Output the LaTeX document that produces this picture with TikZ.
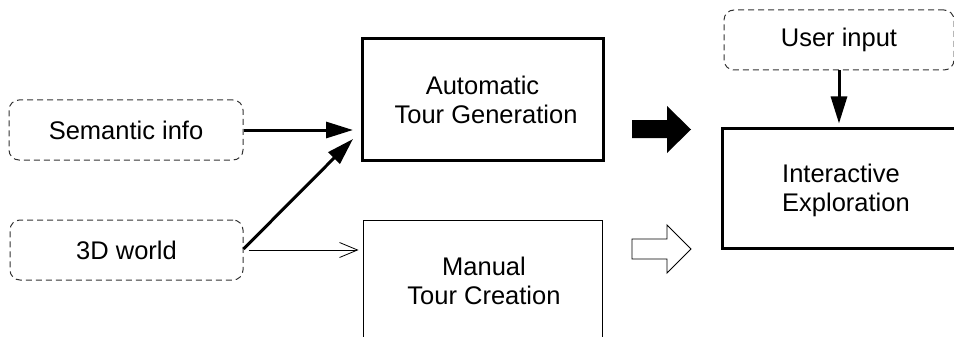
\documentclass[tikz,border=0pt]{standalone}
\usepackage{fontspec}
\setmainfont{Liberation Sans}
\usetikzlibrary{arrows.meta}
\tikzset{
  every node/.style={font=\fontsize{25.5}{29}\selectfont},
  inbox/.style={draw=black!80, line width=1pt, dash pattern=on 6pt off 4pt,
    rounded corners=10pt, inner sep=0pt},
  boldbox/.style={draw, line width=3pt, inner sep=0pt},
  thinbox/.style={draw, line width=0.9pt, inner sep=0pt},
  boldarrow/.style={line width=3pt, -{Triangle[length=27pt,width=16pt]}},
  thinarrow/.style={line width=0.8pt, -{Straight Barb[length=18pt,width=15pt,line width=0.8pt]}},
  fatarrow/.style={line width=0.9pt, line join=miter},
}
\begin{document}
\begin{tikzpicture}[x=1pt,y=-1pt]
\useasboundingbox (0,0) rectangle (954,337);
\clip (0,0) rectangle (954,337);

% input sources
\node[inbox, minimum width=234pt, minimum height=60pt] (sem) at (126,130) {Semantic info};
\node[inbox, minimum width=233pt, minimum height=60pt] (world) at (126.5,250) {3D world};
\node[inbox, minimum width=230pt, minimum height=60pt] (user) at (839,40) {User input};

% tour stages
\node[boldbox, minimum width=241pt, minimum height=121pt, align=center] (auto) at (482.5,99.5)
  {Automatic\\\ Tour Generation};
\node[thinbox, minimum width=239pt, minimum height=130pt] (manual) at (482.5,285) {};
\node[align=center] (manualtext) at (484,281) {Manual\\Tour Creation};

% exploration (its right side runs off the page)
\node[boldbox, minimum width=300pt, minimum height=120pt] (inter) at (872,188) {};
\node[anchor=west, align=left, inner sep=0pt] (intertext) at (782,190) {Interactive\\Exploration};

% connectors
\coordinate (autoinA) at (353,130);
\coordinate (autoinB) at (353,139);
\draw[boldarrow] (sem.east) -- (autoinA);
\draw[boldarrow] (world.east) ++(0,-1) coordinate (worldout) -- (autoinB);
\draw[thinarrow, shorten <=5pt, shorten >=4pt] (world.east) -- (manual.west |- world.east);
\draw[boldarrow, shorten >=3pt] (user.south) -- (inter.north -| user.south);

% block arrows towards the exploration stage
\fill[fatarrow] (632,120) -- (667,120) -- (667,106) -- (691,129.5) -- (667,153)
  -- (667,138) -- (632,138) -- cycle;
\draw[fatarrow, fill=white] (632,239) -- (667,239) -- (667,225) -- (691,249) -- (667,273)
  -- (667,259) -- (632,259) -- cycle;
\end{tikzpicture}
\end{document}
